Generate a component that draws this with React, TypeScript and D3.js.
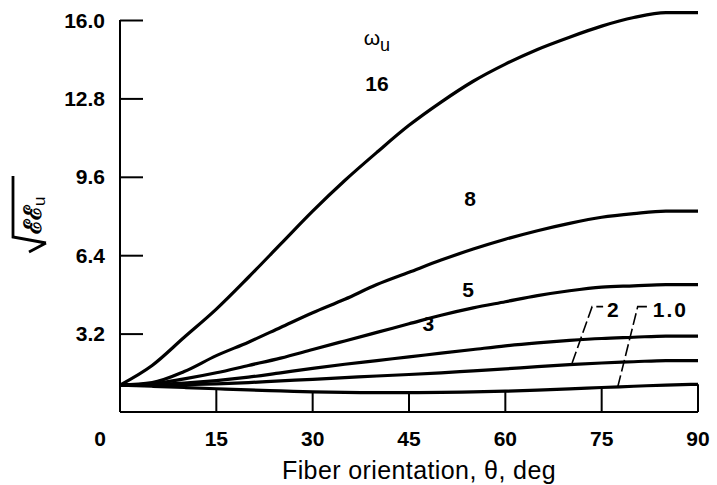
import * as d3 from "d3";
import { useEffect, useRef } from "react";

// fiber orientation, deg
const angles = [0, 5, 10, 15, 20, 25, 30, 35, 40, 45, 50, 55, 60, 65, 70, 75, 80, 85, 90];

// sqrt(C/Cu) for each omega_u
const w16 = [1.1, 1.9, 3.05, 4.2, 5.5, 6.85, 8.2, 9.45, 10.6, 11.7, 12.65, 13.5, 14.2, 14.8, 15.3, 15.75, 16.1, 16.3, 16.3];
const w8 = [1.1, 1.2, 1.65, 2.3, 2.85, 3.45, 4.05, 4.6, 5.2, 5.7, 6.2, 6.65, 7.05, 7.4, 7.7, 7.95, 8.1, 8.2, 8.2];
const w5 = [1.1, 1.15, 1.35, 1.6, 1.9, 2.2, 2.55, 2.9, 3.25, 3.6, 3.95, 4.25, 4.5, 4.75, 4.95, 5.1, 5.15, 5.2, 5.2];
const w3 = [1.1, 1.12, 1.18, 1.28, 1.42, 1.6, 1.78, 1.95, 2.1, 2.25, 2.4, 2.55, 2.7, 2.82, 2.92, 3.0, 3.05, 3.1, 3.1];
const w2 = [1.1, 1.1, 1.12, 1.15, 1.2, 1.27, 1.33, 1.4, 1.47, 1.53, 1.6, 1.68, 1.76, 1.85, 1.93, 2.0, 2.05, 2.1, 2.1];
const w1 = [1.1, 1.05, 1.0, 0.95, 0.9, 0.86, 0.82, 0.8, 0.79, 0.79, 0.8, 0.82, 0.85, 0.89, 0.94, 1.0, 1.05, 1.1, 1.13];

const series = [w16, w8, w5, w3, w2, w1];

const xTicks = [0, 15, 30, 45, 60, 75, 90];
const yTicks = [3.2, 6.4, 9.6, 12.8, 16.0];

// curve labels: [angle, value, text]
const curveLabels: [number, number, string][] = [
    [40, 13.4, "16"],
    [54.5, 8.7, "8"],
    [54.2, 5.0, "5"],
    [48, 3.6, "3"],
];

// leader labels: [angle, value on curve, text]
const leaderLabels: [number, number, string][] = [
    [70.4, 2.0, "2"],
    [77.5, 1.02, "1.0"],
];

const W = 717;
const H = 485;
const margin = { top: 20, bottom: 73, left: 120, right: 19 };

const App = () => {
    const chartRef = useRef(null);

    useEffect(() => {
        const svg = d3.select(chartRef.current);
        svg.selectAll("*").remove();

        const x = d3.scaleLinear().domain([0, 90]).range([margin.left, W - margin.right]);
        const y = d3.scaleLinear().domain([0, 16]).range([H - margin.bottom, margin.top]);
        const font = "Liberation Sans, Arial, Helvetica, sans-serif";

        // left axis with inward ticks
        const yAxis = d3.axisRight(y).tickValues(yTicks).tickSize(23).tickFormat(() => "");
        const gy = svg.append("g").attr("transform", `translate(${margin.left},0)`).call(yAxis);
        gy.select(".domain").remove();
        gy.selectAll("line").attr("stroke", "#000").attr("stroke-width", 2);
        svg.append("line")
            .attr("x1", margin.left).attr("x2", margin.left)
            .attr("y1", y(16)).attr("y2", y(0))
            .attr("stroke", "#000").attr("stroke-width", 2);

        svg.append("g")
            .selectAll("text")
            .data(yTicks)
            .enter()
            .append("text")
            .attr("x", margin.left - 15)
            .attr("y", d => y(d))
            .attr("dy", "0.36em")
            .attr("text-anchor", "end")
            .style("font-family", font)
            .style("font-size", "21px")
            .style("font-weight", "bold")
            .text(d => d.toFixed(1));

        // bottom axis
        svg.append("line")
            .attr("x1", x(0)).attr("x2", x(90))
            .attr("y1", y(0)).attr("y2", y(0))
            .attr("stroke", "#000").attr("stroke-width", 2);

        // ticks rise from the axis to the lowest curve
        svg.append("g")
            .selectAll("line")
            .data(xTicks.slice(1))
            .enter()
            .append("line")
            .attr("x1", d => x(d)).attr("x2", d => x(d))
            .attr("y1", y(0))
            .attr("y2", d => y(w1[angles.indexOf(d)]))
            .attr("stroke", "#000").attr("stroke-width", 2);

        svg.append("g")
            .selectAll("text")
            .data(xTicks)
            .enter()
            .append("text")
            .attr("x", d => x(d) + (d === 0 ? -20 : 0))
            .attr("y", y(0) + 34)
            .attr("text-anchor", "middle")
            .style("font-family", font)
            .style("font-size", "21px")
            .style("font-weight", "bold")
            .text(d => d);

        svg.append("text")
            .attr("x", 419)
            .attr("y", H - 6)
            .attr("text-anchor", "middle")
            .style("font-family", font)
            .style("font-size", "25px")
            .style("letter-spacing", "0.4px")
            .text("Fiber orientation, θ, deg");

        // y label: sqrt(C Cu)
        svg.append("path")
            .attr("d", "M13,176 L13,237 L46,243 M46,243 L29,252")
            .attr("fill", "none")
            .attr("stroke", "#000")
            .attr("stroke-width", 2.8);
        const yl = svg.append("text")
            .attr("transform", "translate(41,234) rotate(-90)")
            .style("font-family", "DejaVu Serif, serif")
            .style("font-weight", "bold")
            .style("font-size", "24px");
        yl.append("tspan").text("ℰℰ");
        yl.append("tspan").attr("dy", 4).style("font-size", "17px").style("font-weight", "normal").style("font-family", font).text("u");

        // curves
        const line = d3.line<number>()
            .x((d, i) => x(angles[i]))
            .y(d => y(d))
            .curve(d3.curveMonotoneX);

        svg.append("g")
            .selectAll("path")
            .data(series)
            .enter()
            .append("path")
            .attr("d", d => line(d))
            .attr("fill", "none")
            .attr("stroke", "#000")
            .attr("stroke-width", 3.2)
            .attr("stroke-linejoin", "round");

        // labels
        svg.append("g")
            .selectAll("text")
            .data(curveLabels)
            .enter()
            .append("text")
            .attr("x", d => x(d[0]))
            .attr("y", d => y(d[1]))
            .attr("dy", "0.36em")
            .attr("text-anchor", "middle")
            .style("font-family", font)
            .style("font-size", "21px")
            .style("font-weight", "bold")
            .text(d => d[2]);

        const om = svg.append("text")
            .attr("x", x(40))
            .attr("y", y(15))
            .attr("text-anchor", "middle")
            .style("font-family", font)
            .style("font-size", "21px");
        om.append("tspan").text("ω");
        om.append("tspan").attr("dy", 6).style("font-size", "18px").text("u");

        // leader labels for 2 and 1.0
        leaderLabels.forEach(([a, v, txt]) => {
            const x0 = x(a), y0 = y(v);
            const x1 = x0 + 20, y1 = y(4.3);
            svg.append("path")
                .attr("d", `M${x0},${y0} L${x1},${y1} L${x1 + 11},${y1}`)
                .attr("fill", "none")
                .attr("stroke", "#000")
                .attr("stroke-width", 1.6)
                .attr("stroke-dasharray", "12,4");
            svg.append("text")
                .attr("x", x1 + 15)
                .attr("y", y(4.2))
                .attr("dy", "0.36em")
                .attr("text-anchor", "start")
                .style("font-family", font)
                .style("font-size", "21px")
                .style("font-weight", "bold")
                .style("letter-spacing", txt.length > 1 ? "2px" : "0px")
                .text(txt);
        });
    }, []);

    return (
        <svg ref={chartRef} width={W} height={H} style={{ position: "absolute", left: 0, top: 0, background: "#fff" }}></svg>
    );
};

export default App;
